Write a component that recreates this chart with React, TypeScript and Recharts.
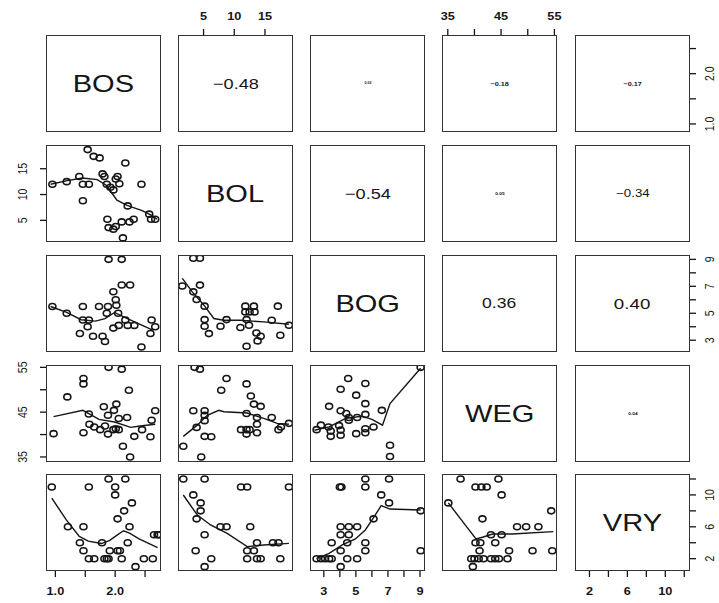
import React from 'react';
import { ScatterChart, Scatter, XAxis, YAxis } from 'recharts';

type Pt = [number, number];

const varNames = ['BOS', 'BOL', 'BOG', 'WEG', 'VRY'];
const varRanges: [number, number][] = [
  [0.86, 2.75],
  [1.0, 19.4],
  [2.2, 9.25],
  [34.1, 55.3],
  [0.58, 12.5],
];
const varTicks = [
  [1.0, 1.5, 2.0, 2.5],
  [5, 10, 15],
  [3, 4, 5, 6, 7, 8, 9],
  [35, 40, 45, 50, 55],
  [2, 4, 6, 8, 10, 12],
];
const varTickLabels = [
  [1.0, 2.0],
  [5, 10, 15],
  [3, 5, 7, 9],
  [35, 45, 55],
  [2, 6, 10],
];
const varTickDigits = [1, 0, 0, 0, 0];

// upper triangle correlations: [row, col, text]
const corrCells: [number, number, string][] = [
  [0, 1, '\u22120.48'],
  [0, 2, '0.02'],
  [0, 3, '\u22120.18'],
  [0, 4, '\u22120.17'],
  [1, 2, '\u22120.54'],
  [1, 3, '0.05'],
  [1, 4, '\u22120.34'],
  [2, 3, '0.36'],
  [2, 4, '0.40'],
  [3, 4, '0.04'],
];
const corrFontSize = [15, 3, 6, 6, 15, 4, 11, 14.5, 15.5, 4];

const bolVsBos: Pt[] = [
  [0.95, 12.0], [1.19, 12.5], [1.4, 13.5], [1.46, 12.0], [1.56, 12.0], [1.46, 8.8], [1.54, 18.7],
  [1.64, 17.4], [1.74, 17.1], [1.79, 14.0], [1.82, 13.5], [1.86, 12.0], [1.92, 11.4], [1.97, 10.9],
  [2.01, 13.0], [2.04, 13.5], [2.07, 12.1], [2.17, 16.1], [2.44, 12.0], [1.87, 5.2], [1.89, 3.6],
  [1.97, 3.3], [2.01, 3.8], [2.11, 4.7], [2.13, 1.6], [2.24, 4.7], [2.31, 5.2], [2.21, 7.8],
  [2.57, 6.2], [2.6, 5.2], [2.67, 5.2],
];
const bolVsBosSmooth: Pt[] = [
  [0.92, 12.0], [1.2, 12.7], [1.45, 13.2], [1.7, 12.9], [1.85, 11.8], [1.95, 10.2], [2.03, 8.9],
  [2.2, 7.9], [2.45, 6.9], [2.62, 5.9], [2.7, 5.2],
];

const bogVsBos: Pt[] = [
  [1.89, 9.0], [2.11, 9.0], [2.11, 7.1], [2.25, 7.1], [1.97, 6.6], [2.01, 6.0], [0.95, 5.5],
  [1.46, 5.5], [1.73, 5.5], [1.88, 5.5], [2.02, 5.6], [1.19, 5.0], [1.86, 5.0], [2.05, 5.0],
  [1.46, 4.5], [1.56, 4.5], [1.54, 4.0], [2.17, 4.5], [1.97, 3.9], [2.06, 4.1], [2.21, 4.1],
  [2.32, 4.1], [2.61, 4.5], [2.67, 4.0], [1.41, 3.5], [1.63, 3.3], [1.79, 3.3], [1.83, 2.9],
  [2.59, 3.5], [2.44, 2.5],
];
const bogVsBosSmooth: Pt[] = [
  [0.92, 5.5], [1.19, 5.06], [1.43, 4.52], [1.67, 4.42], [1.83, 4.6], [1.99, 5.06], [2.16, 4.69],
  [2.37, 4.27], [2.64, 3.73],
];

const wegVsBos: Pt[] = [
  [0.97, 40.2], [1.2, 48.4], [1.47, 52.5], [1.47, 51.3], [1.47, 40.4], [1.56, 44.6], [1.57, 42.3],
  [1.65, 41.7], [1.75, 41.1], [1.81, 46.2], [1.83, 41.9], [1.88, 44.3], [1.88, 40.1], [1.97, 41.1],
  [2.01, 41.3], [2.06, 41.1], [1.98, 45.4], [2.02, 46.8], [2.06, 43.6], [2.11, 54.6], [1.89, 55.0],
  [2.13, 37.4], [2.2, 43.8], [2.23, 49.9], [2.25, 35.0], [2.32, 39.6], [2.45, 41.1], [2.59, 39.5],
  [2.61, 43.2], [2.67, 45.3],
];
const wegVsBosSmooth: Pt[] = [
  [0.97, 44.0], [1.46, 45.4], [1.73, 43.4], [1.99, 42.8], [2.26, 41.6], [2.42, 41.9], [2.67, 42.3],
];

const vryVsBos: Pt[] = [
  [0.94, 11], [1.56, 11], [1.89, 12], [2.17, 12], [2.0, 11], [2.0, 10], [2.04, 7], [2.15, 8],
  [2.28, 9], [1.21, 6], [1.47, 6], [2.24, 6], [1.41, 4], [1.78, 4], [2.21, 4], [1.47, 3],
  [1.91, 3], [2.04, 3], [2.08, 3], [1.56, 2], [1.65, 2], [1.82, 2], [1.86, 2], [1.89, 2],
  [2.11, 2], [2.34, 1], [2.48, 2], [2.63, 2], [2.65, 5], [2.71, 5], [2.73, 5],
];
const vryVsBosSmooth: Pt[] = [
  [0.94, 9.6], [1.18, 6.9], [1.4, 4.8], [1.55, 4.2], [1.77, 3.9], [1.91, 4.3], [2.02, 4.9],
  [2.14, 5.5], [2.24, 5.2], [2.4, 4.5], [2.71, 3.4],
];

const bogVsBol: Pt[] = [
  [3.33, 9.08], [4.41, 9.08], [1.54, 7.02], [4.41, 7.09], [3.33, 6.59], [3.87, 6.02], [5.17, 5.53],
  [5.17, 4.53], [5.17, 4.04], [5.87, 3.49], [7.76, 4.04], [8.74, 4.53], [11.0, 3.94], [11.8, 5.53],
  [13.2, 5.53], [11.8, 5.1], [12.5, 5.1], [13.3, 5.1], [12.0, 4.53], [12.4, 4.11], [13.6, 3.54],
  [14.3, 3.29], [13.8, 2.95], [12.0, 2.55], [16.1, 4.48], [17.1, 5.53], [17.5, 3.37], [18.9, 4.11],
];
const bogVsBolSmooth: Pt[] = [
  [1.54, 7.59], [3.16, 6.59], [5.06, 5.6], [6.68, 4.61], [8.3, 4.48], [11.0, 4.48], [14.8, 4.36],
  [18.9, 4.19],
];

const wegVsBol: Pt[] = [
  [3.54, 55.0], [4.41, 54.6], [8.74, 52.5], [7.87, 49.9], [12.0, 51.3], [12.7, 48.6], [13.2, 46.8],
  [14.3, 46.3], [3.33, 45.3], [5.17, 45.3], [5.17, 44.3], [5.17, 43.1], [3.87, 41.6], [5.17, 39.6],
  [6.25, 39.5], [1.7, 37.4], [4.62, 35.0], [12.0, 44.7], [13.7, 43.8], [13.7, 42.3], [11.1, 41.1],
  [12.0, 41.1], [12.5, 41.1], [12.0, 40.1], [13.7, 40.4], [16.1, 43.8], [17.2, 41.1], [17.6, 41.7],
  [18.9, 42.5],
];
const wegVsBolSmooth: Pt[] = [
  [1.7, 39.6], [3.98, 42.1], [5.6, 44.3], [7.49, 45.4], [8.3, 45.1], [12.1, 44.8], [14.8, 43.6],
  [17.0, 42.5], [18.9, 42.3],
];

const vryVsBol: Pt[] = [
  [1.7, 12], [5.17, 12], [11.1, 11], [12.1, 11], [18.9, 11], [3.33, 10], [4.52, 9], [4.52, 8],
  [3.87, 7], [7.76, 6], [8.74, 6], [12.6, 6], [5.17, 5], [13.7, 4], [16.3, 4], [17.2, 4],
  [3.71, 3], [12.1, 3], [13.2, 3], [6.25, 2], [12.1, 2], [13.7, 2], [14.3, 2], [17.5, 2], [5.17, 1],
];
const vryVsBolSmooth: Pt[] = [
  [1.7, 9.99], [3.98, 7.48], [6.14, 6.23], [8.84, 5.18], [12.1, 3.51], [14.8, 3.72], [18.9, 3.92],
];

const wegVsBog: Pt[] = [
  [9.04, 55.0], [4.52, 52.5], [5.59, 51.4], [4.05, 50.1], [5.02, 48.8], [5.59, 46.9], [3.33, 46.3],
  [4.05, 45.3], [4.4, 44.7], [4.56, 43.8], [5.08, 43.8], [5.59, 44.5], [6.62, 45.4], [2.55, 41.1],
  [2.82, 42.1], [3.29, 41.7], [3.43, 40.8], [3.43, 39.6], [3.95, 42.0], [4.05, 41.0], [4.05, 39.85],
  [4.56, 43.2], [5.02, 40.2], [5.59, 41.3], [5.59, 40.4], [6.1, 41.7], [7.13, 37.6], [7.13, 35.1],
];
const wegVsBogSmooth: Pt[] = [
  [2.41, 40.97], [3.33, 41.7], [4.36, 43.6], [5.39, 44.1], [6.0, 43.4], [6.66, 42.1], [7.13, 46.9],
  [9.04, 54.8],
];

const vryVsBog: Pt[] = [
  [5.59, 12], [5.59, 11], [7.07, 12], [4.0, 11], [4.1, 11], [6.58, 10], [7.07, 9], [6.1, 7],
  [9.04, 8], [4.05, 6], [4.56, 6], [5.08, 6], [4.05, 5], [4.56, 5], [3.49, 4], [4.46, 4],
  [5.59, 4], [4.05, 3], [5.59, 3], [2.55, 2], [2.82, 2], [3.08, 2], [3.33, 2], [3.49, 2],
  [4.46, 2], [5.08, 2], [4.05, 1], [9.04, 3],
];
const vryVsBogSmooth: Pt[] = [
  [2.55, 2.0], [3.33, 2.67], [4.15, 3.72], [4.97, 4.47], [5.59, 5.6], [6.1, 7.15], [6.58, 8.65],
  [7.13, 8.23], [9.04, 8.1],
];

const vryVsWeg: Pt[] = [
  [35.1, 9], [37.4, 12], [40.2, 11], [41.3, 11], [42.3, 11], [44.5, 12], [45.1, 10], [41.5, 7],
  [40.2, 4], [41.1, 4], [43.1, 5], [45.1, 5], [43.9, 4], [40.96, 3], [46.5, 3], [50.9, 3],
  [54.6, 3], [48.0, 6], [49.7, 6], [52.0, 6], [54.4, 8], [39.4, 2], [40.0, 2], [40.8, 2],
  [41.7, 2], [43.1, 2], [43.9, 2], [44.6, 2], [46.2, 2], [39.7, 1],
];
const vryVsWegSmooth: Pt[] = [
  [35.1, 9.0], [37.9, 6.55], [40.3, 4.48], [41.5, 4.69], [43.4, 5.1], [47.1, 5.1], [54.8, 5.39],
];

// lower triangle: [row, col, points, smoother]
const lowerCells: [number, number, Pt[], Pt[]][] = [
  [1, 0, bolVsBos, bolVsBosSmooth],
  [2, 0, bogVsBos, bogVsBosSmooth],
  [3, 0, wegVsBos, wegVsBosSmooth],
  [4, 0, vryVsBos, vryVsBosSmooth],
  [2, 1, bogVsBol, bogVsBolSmooth],
  [3, 1, wegVsBol, wegVsBolSmooth],
  [4, 1, vryVsBol, vryVsBolSmooth],
  [3, 2, wegVsBog, wegVsBogSmooth],
  [4, 2, vryVsBog, vryVsBogSmooth],
  [4, 3, vryVsWeg, vryVsWegSmooth],
];

const BOX_W = 113;
const BOX_H = 95;
const PAD = 34;
const COL_LEFT = [47, 179, 311, 443, 576];
const ROW_TOP = [36, 146, 256, 366, 475];
const STRETCH = 1.21;
const INK = '#151515';
const FONT = '"Liberation Sans", Arial, Helvetica, sans-serif';

const toXY = (pts: Pt[]) => pts.map(([x, y]) => ({ x, y }));

const AxisTick = (props: any) => {
  const { x, y, payload, side, labels, digits } = props;
  const v = Number(payload.value);
  if (!labels.some((l: number) => Math.abs(l - v) < 1e-9)) return <g />;
  const txt = v.toFixed(digits);
  const common = { fontFamily: FONT, fontSize: 10.5, fontWeight: 700, fill: INK, textAnchor: 'middle' as const };
  if (side === 'top' || side === 'bottom') {
    return (
      <g transform={`translate(${x},${y}) scale(${STRETCH},1)`}>
        <text x={0} y={side === 'top' ? -3 : 12.5} {...common}>{txt}</text>
      </g>
    );
  }
  return (
    <g transform={`translate(${x},${y}) scale(${STRETCH},1) rotate(-90)`}>
      <text x={0} y={0} dominantBaseline="central" {...common} fontWeight={400}>{txt}</text>
    </g>
  );
};

const Ring = (p: any) => (
  <ellipse cx={p.cx} cy={p.cy} rx={3.5} ry={3} fill="none" stroke={INK} strokeWidth={1.6} />
);
const NoMark = () => <g />;

interface PanelProps {
  row: number;
  col: number;
  points?: Pt[];
  smooth?: Pt[];
}

const Panel: React.FC<PanelProps> = ({ row, col, points, smooth }) => {
  const top = row === 0 && col % 2 === 1;
  const bottom = row === 4 && col % 2 === 0;
  const left = col === 0 && row % 2 === 1;
  const right = col === 4 && row % 2 === 0;
  const xSide = top ? 'top' : 'bottom';
  const ySide = left ? 'left' : 'right';
  const tickLine = { stroke: INK, strokeWidth: 1.3 };

  return (
    <div style={{ position: 'absolute', left: COL_LEFT[col] - PAD, top: ROW_TOP[row] - PAD }}>
      <ScatterChart
        width={BOX_W + 2 * PAD}
        height={BOX_H + 2 * PAD}
        margin={{ top: top ? 0 : PAD, bottom: bottom ? 0 : PAD, left: left ? 0 : PAD, right: right ? 0 : PAD }}
      >
        <XAxis
          type="number"
          dataKey="x"
          domain={varRanges[col]}
          allowDataOverflow
          hide={!(top || bottom)}
          orientation={xSide}
          height={PAD}
          ticks={varTicks[col]}
          interval={0}
          tickSize={7}
          tickMargin={6}
          axisLine={false}
          tickLine={tickLine}
          tick={<AxisTick side={xSide} labels={varTickLabels[col]} digits={varTickDigits[col]} />}
        />
        <YAxis
          type="number"
          dataKey="y"
          domain={varRanges[row]}
          allowDataOverflow
          hide={!(left || right)}
          orientation={ySide}
          width={PAD}
          ticks={varTicks[row]}
          interval={0}
          tickSize={7}
          tickMargin={left ? 18 : 13}
          axisLine={false}
          tickLine={tickLine}
          tick={<AxisTick side={ySide} labels={varTickLabels[row]} digits={varTickDigits[row]} />}
        />
        <Scatter data={points ? toXY(points) : []} shape={Ring} isAnimationActive={false} />
        {smooth && (
          <Scatter
            data={toXY(smooth)}
            line={{ stroke: INK, strokeWidth: 1.4 }}
            shape={NoMark}
            isAnimationActive={false}
          />
        )}
      </ScatterChart>
    </div>
  );
};

const BoxText: React.FC<{ row: number; col: number; text: string; size: number }> = ({ row, col, text, size }) => (
  <div
    style={{
      position: 'absolute',
      left: COL_LEFT[col],
      top: ROW_TOP[row],
      width: BOX_W,
      height: BOX_H,
      display: 'flex',
      alignItems: 'center',
      justifyContent: 'center',
      pointerEvents: 'none',
    }}
  >
    <span
      style={{
        fontFamily: FONT,
        fontSize: size,
        fontWeight: size < 8 ? 700 : 400,
        color: INK,
        lineHeight: 1,
        whiteSpace: 'nowrap',
        transform: `scaleX(${STRETCH})`,
      }}
    >
      {text}
    </span>
  </div>
);

const App: React.FC = () => {
  const cells: React.ReactNode[] = [];
  for (let r = 0; r < 5; r++) {
    for (let c = 0; c < 5; c++) {
      const lower = lowerCells.find(([lr, lc]) => lr === r && lc === c);
      cells.push(
        <Panel key={`p${r}${c}`} row={r} col={c} points={lower ? lower[2] : undefined} smooth={lower ? lower[3] : undefined} />
      );
      cells.push(
        <div
          key={`b${r}${c}`}
          style={{
            position: 'absolute',
            left: COL_LEFT[c] - 0.75,
            top: ROW_TOP[r] - 0.75,
            width: BOX_W + 1.5,
            height: BOX_H + 1.5,
            border: '1.5px solid #333',
            boxSizing: 'border-box',
            pointerEvents: 'none',
          }}
        />
      );
    }
  }

  return (
    <div style={{ position: 'absolute', left: 0, top: 0, width: 719, height: 603, overflow: 'hidden', background: '#fff' }}>
      {cells}
      {varNames.map((name, i) => (
        <BoxText key={name} row={i} col={i} text={name} size={24} />
      ))}
      {corrCells.map(([r, c, text], i) => (
        <BoxText key={`c${r}${c}`} row={r} col={c} text={text} size={corrFontSize[i]} />
      ))}
    </div>
  );
};

export default App;
